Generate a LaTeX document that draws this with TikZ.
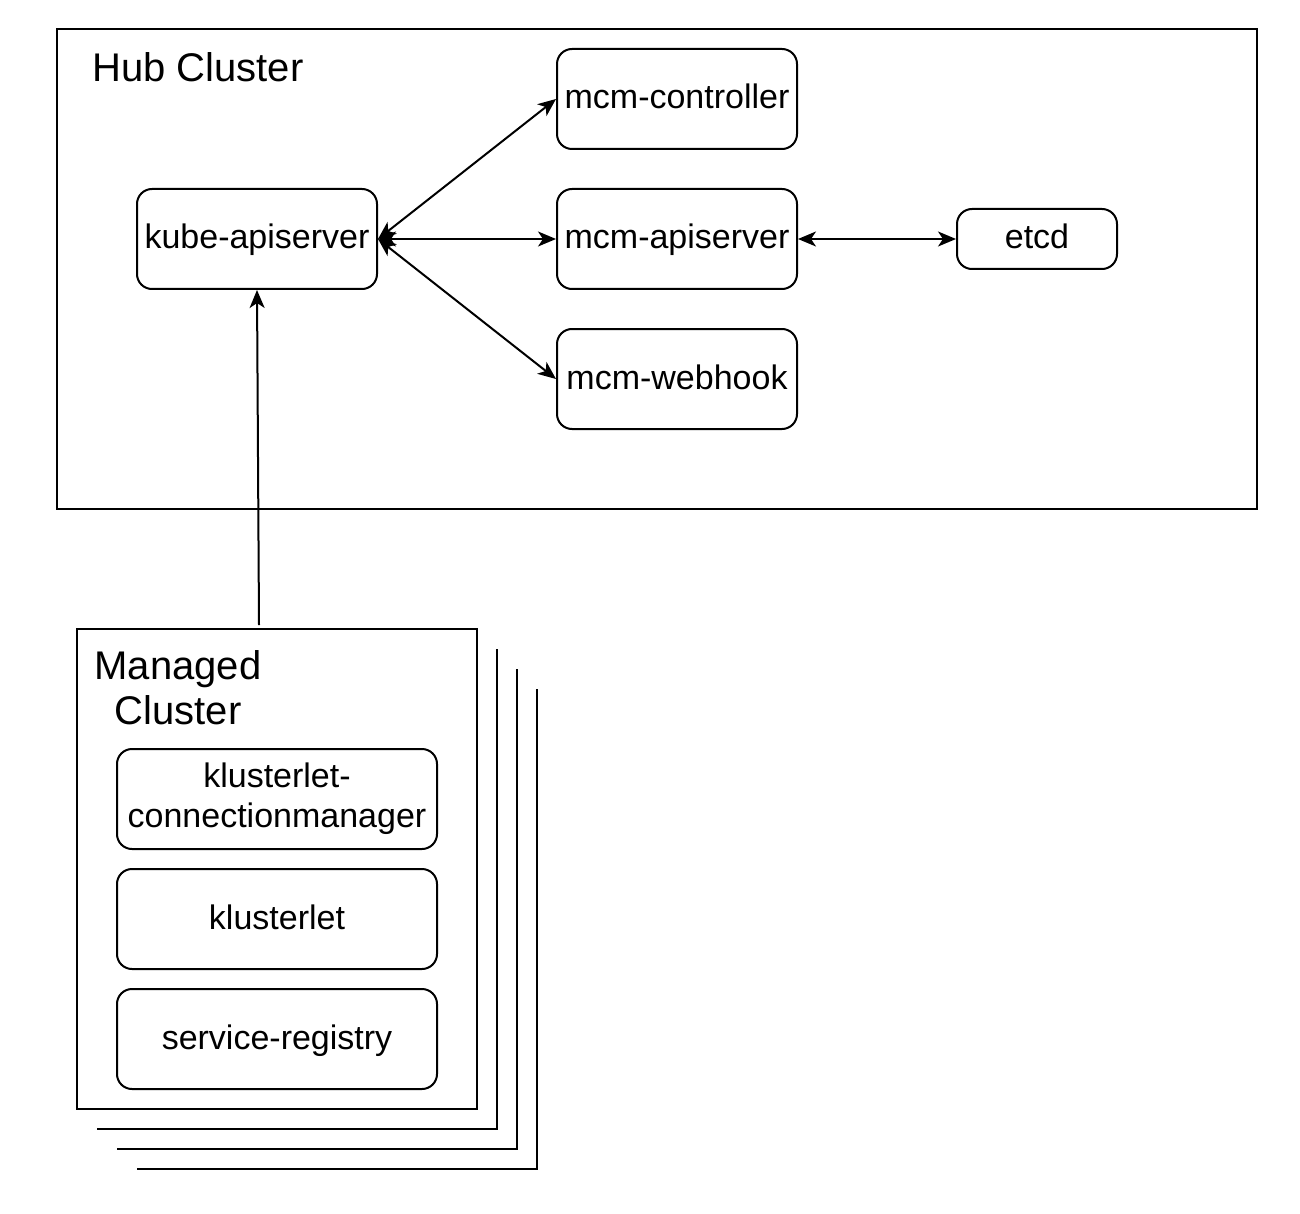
\documentclass[tikz,border=0pt]{standalone}
\usepackage{fontspec}
\setmainfont{Liberation Sans}
\usetikzlibrary{arrows.meta}

\begin{document}
\begin{tikzpicture}[x=1pt, y=-1pt, line width=2pt,
    box/.style={draw, rounded corners=15pt, minimum width=240pt, minimum height=100pt,
      align=center, text height=24pt, text depth=4pt, font=\fontsize{34}{40}\selectfont},
    frame/.style={draw},
    title/.style={font=\fontsize{40}{45}\selectfont, align=center},
    link/.style={{Stealth[length=18pt, width=15pt, inset=5pt]}-{Stealth[length=18pt, width=15pt, inset=5pt]}},
    uplink/.style={-{Stealth[length=18pt, width=15pt, inset=5pt]}}]
    \useasboundingbox (0,0) rectangle (1300,1214);

    % hub side
    \node[frame, minimum width=1200pt, minimum height=480pt] (hub) at (657,269) {};
    \node[title, anchor=base west] (hubtitle) at (88,82) {Hub Cluster};

    \node[box] (kube) at (257,239) {kube-apiserver};
    \node[box] (ctrl) at (677,99) {mcm-controller};
    \node[box] (mcmapi) at (677,239) {mcm-apiserver};
    \node[box] (webhook) at (677,379) {mcm-webhook};
    \node[box, minimum width=160pt, minimum height=60pt] (etcd) at (1037,239) {etcd};

    \draw[link] (kube.east) -- (ctrl.west);
    \draw[link] (kube.east) -- (mcmapi.west);
    \draw[link] (kube.east) -- (webhook.west);
    \draw[link] (mcmapi.east) -- (etcd.west);

    % managed side
    \foreach \i in {1,2,3}
      \draw (77+20*\i, 1109+20*\i) -| (477+20*\i, 629+20*\i);
    \node[frame, fill=white, minimum width=400pt, minimum height=480pt] (managed) at (277,869) {};
    \node[title] (managedtitle) at (178,688) {Managed\\ Cluster};

    \node[box, minimum width=320pt, text height=, text depth=] (conn) at (277,799) {klusterlet-\\connectionmanager};
    \node[box, minimum width=320pt] (klet) at (277,919) {klusterlet};
    \node[box, minimum width=320pt] (registry) at (277,1039) {service-registry};

    \coordinate (mtop) at (259,625);
    \draw[uplink] (mtop) -- (kube.south);
\end{tikzpicture}
\end{document}
